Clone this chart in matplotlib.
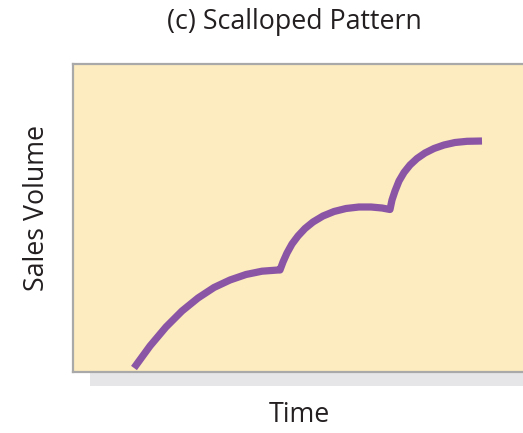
import matplotlib.pyplot as plt
from matplotlib.patches import Rectangle

# sales curve, three scallops (time, volume) in panel units
time = [61, 77, 93, 109, 125, 141, 157, 173, 189, 205,
        207, 210, 214, 219, 225, 232, 240, 250, 261, 273, 286, 298, 309, 317,
        319, 322, 326, 331, 337, 344, 352, 361, 371, 382, 394, 409]
volume = [4, 26, 45, 61, 74, 84.5, 92, 97.5, 100.8, 102,
          102, 110, 119, 128, 136, 143.5, 150, 156, 160.5, 163.5, 165, 165, 164, 162.5,
          172, 181, 191, 199.5, 207, 213.5, 219, 223.5, 227, 229.5, 230.7, 231]

title = "(c) Scalloped Pattern"
xlabel = "Time"
ylabel = "Sales Volume"

W, H = 523, 433
fig = plt.figure(figsize=(W / 100, H / 100), dpi=100)

# drop shadow under the panel
fig.patches.append(Rectangle((90 / W, (H - 386) / H), (W - 90) / W, 100 / H,
                             transform=fig.transFigure, facecolor="#e6e6e8",
                             edgecolor="none", zorder=0))

ax = fig.add_axes([73 / W, (H - 372) / H, 450 / W, 308 / H], zorder=1)
ax.set_facecolor("#fdecbf")
ax.plot(time, volume, color="#8b55a5", lw=5.2, solid_capstyle="butt",
        solid_joinstyle="round")
ax.set_xlim(0, 450)
ax.set_ylim(0, 308)
ax.set_xticks([])
ax.set_yticks([])
for side in ["left", "top", "bottom"]:
    ax.spines[side].set_color("#a9a9a9")
    ax.spines[side].set_linewidth(1.6)
ax.spines["right"].set_visible(False)

font = ["Open Sans", "DejaVu Sans"]
fig.text(294 / W, 1 - 22 / H, title, ha="center", va="center",
         fontsize=19.3, family=font, color="#231f20")
fig.text(299 / W, 1 - 415 / H, xlabel, ha="center", va="center",
         fontsize=19.3, family=font, color="#231f20")
fig.text(37 / W, 1 - 208 / H, ylabel, ha="center", va="center",
         rotation=90, fontsize=19.3, family=font, color="#231f20")

fig.savefig("out.png", dpi=100)
